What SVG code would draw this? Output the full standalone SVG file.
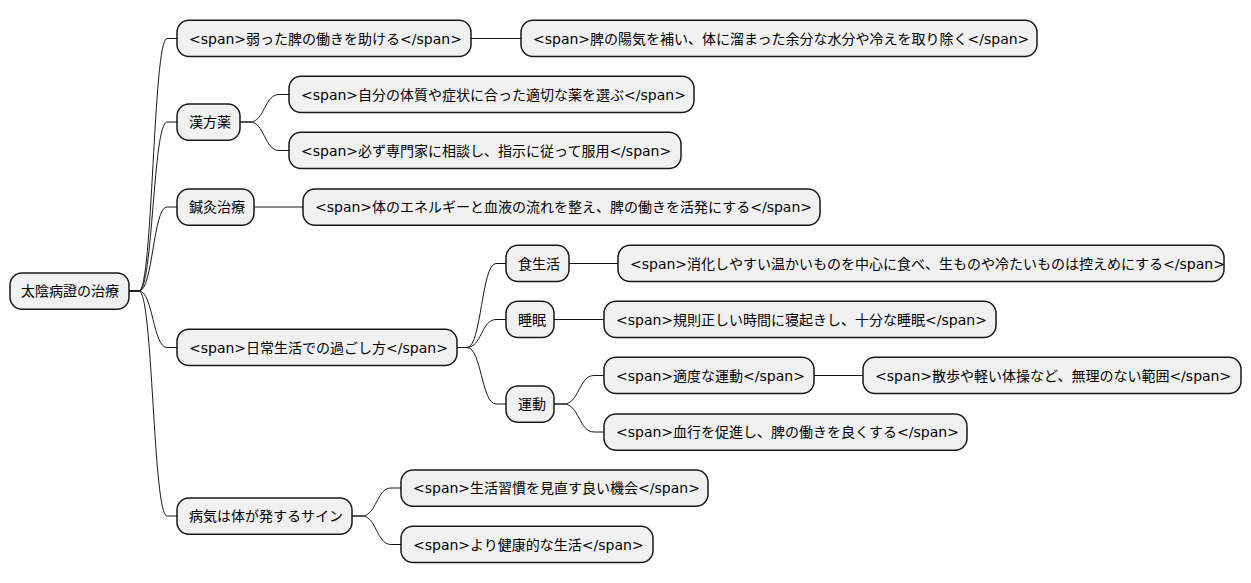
<svg xmlns="http://www.w3.org/2000/svg" width="1251" height="583" viewBox="0 0 1251 583">
<style>
.n rect{fill:#F1F1F1;stroke:#181818;stroke-width:1.5}
.n text{font-family:"DejaVu Sans","Noto Sans CJK JP",sans-serif;font-size:14px;fill:#000}
#connectors path{fill:none;stroke:#181818;stroke-width:1}
</style>
<rect width="1251" height="583" fill="#FFFFFF"/>
<g id="connectors">
<path d="M129,291 H139 C153,291 153,38.5 167,38.5 H177"/>
<path d="M129,291 H139 C153,291 153,122 167,122 H177"/>
<path d="M129,291 H139 C153,291 153,207 167,207 H177"/>
<path d="M129,291 H139 C153,291 153,347.5 167,347.5 H177"/>
<path d="M129,291 H139 C153,291 153,516 167,516 H177"/>
<path d="M471,38.5 H521"/>
<path d="M240,122 H250 C264.5,122 264.5,94.5 279,94.5 H289"/>
<path d="M240,122 H250 C264.5,122 264.5,150.5 279,150.5 H289"/>
<path d="M254,207 H303"/>
<path d="M457,347.5 H467 C481.5,347.5 481.5,263.5 496,263.5 H506"/>
<path d="M457,347.5 H467 C481.5,347.5 481.5,319.5 496,319.5 H506"/>
<path d="M457,347.5 H467 C481.5,347.5 481.5,404 496,404 H506"/>
<path d="M569,263.5 H618"/>
<path d="M554,319.5 H604"/>
<path d="M554,404 H564 C579,404 579,375.5 594,375.5 H604"/>
<path d="M554,404 H564 C579,404 579,432 594,432 H604"/>
<path d="M814,375.5 H863"/>
<path d="M352,516 H362 C376.5,516 376.5,488 391,488 H401"/>
<path d="M352,516 H362 C376.5,516 376.5,544.5 391,544.5 H401"/>
</g>
<g id="root" class="n"><rect x="10" y="273" width="119" height="36.3" rx="12"/><text x="21" y="296">太陰病證の治療</text></g>
<g id="n1" class="n"><rect x="177" y="20.3" width="294" height="36.3" rx="12"/><text x="189" y="43.5">&lt;span&gt;弱った脾の働きを助ける&lt;/span&gt;</text></g>
<g id="n1a" class="n"><rect x="521" y="20.3" width="516" height="36.3" rx="12"/><text x="533" y="43.5">&lt;span&gt;脾の陽気を補い、体に溜まった余分な水分や冷えを取り除く&lt;/span&gt;</text></g>
<g id="n2" class="n"><rect x="177" y="103.9" width="63" height="36.3" rx="12"/><text x="189" y="127">漢方薬</text></g>
<g id="n2a" class="n"><rect x="289" y="76.3" width="405" height="36.3" rx="12"/><text x="301" y="99.5">&lt;span&gt;自分の体質や症状に合った適切な薬を選ぶ&lt;/span&gt;</text></g>
<g id="n2b" class="n"><rect x="289" y="132.3" width="392" height="36.3" rx="12"/><text x="301" y="155.5">&lt;span&gt;必ず専門家に相談し、指示に従って服用&lt;/span&gt;</text></g>
<g id="n3" class="n"><rect x="177" y="188.9" width="77" height="36.3" rx="12"/><text x="189" y="212">鍼灸治療</text></g>
<g id="n3a" class="n"><rect x="303" y="188.9" width="517" height="36.3" rx="12"/><text x="315" y="212">&lt;span&gt;体のエネルギーと血液の流れを整え、脾の働きを活発にする&lt;/span&gt;</text></g>
<g id="n4" class="n"><rect x="177" y="329.3" width="280" height="36.3" rx="12"/><text x="189" y="352.5">&lt;span&gt;日常生活での過ごし方&lt;/span&gt;</text></g>
<g id="n4a" class="n"><rect x="506" y="245.3" width="63" height="36.3" rx="12"/><text x="518" y="268.5">食生活</text></g>
<g id="n4a1" class="n"><rect x="618" y="245.3" width="606" height="36.3" rx="12"/><text x="630" y="268.5">&lt;span&gt;消化しやすい温かいものを中心に食べ、生ものや冷たいものは控えめにする&lt;/span&gt;</text></g>
<g id="n4b" class="n"><rect x="506" y="301.3" width="48" height="36.3" rx="12"/><text x="518" y="324.5">睡眠</text></g>
<g id="n4b1" class="n"><rect x="604" y="301.3" width="392" height="36.3" rx="12"/><text x="616" y="324.5">&lt;span&gt;規則正しい時間に寝起きし、十分な睡眠&lt;/span&gt;</text></g>
<g id="n4c" class="n"><rect x="506" y="385.9" width="48" height="36.3" rx="12"/><text x="518" y="409">運動</text></g>
<g id="n4c1" class="n"><rect x="604" y="357.3" width="210" height="36.3" rx="12"/><text x="616" y="380.5">&lt;span&gt;適度な運動&lt;/span&gt;</text></g>
<g id="n4c1a" class="n"><rect x="863" y="357.3" width="378" height="36.3" rx="12"/><text x="875" y="380.5">&lt;span&gt;散歩や軽い体操など、無理のない範囲&lt;/span&gt;</text></g>
<g id="n4c2" class="n"><rect x="604" y="413.9" width="363" height="36.3" rx="12"/><text x="616" y="437">&lt;span&gt;血行を促進し、脾の働きを良くする&lt;/span&gt;</text></g>
<g id="n5" class="n"><rect x="177" y="497.9" width="175" height="36.3" rx="12"/><text x="189" y="521">病気は体が発するサイン</text></g>
<g id="n5a" class="n"><rect x="401" y="469.9" width="307" height="36.3" rx="12"/><text x="413" y="493">&lt;span&gt;生活習慣を見直す良い機会&lt;/span&gt;</text></g>
<g id="n5b" class="n"><rect x="401" y="526.3" width="252" height="36.3" rx="12"/><text x="413" y="549.5">&lt;span&gt;より健康的な生活&lt;/span&gt;</text></g>
</svg>
